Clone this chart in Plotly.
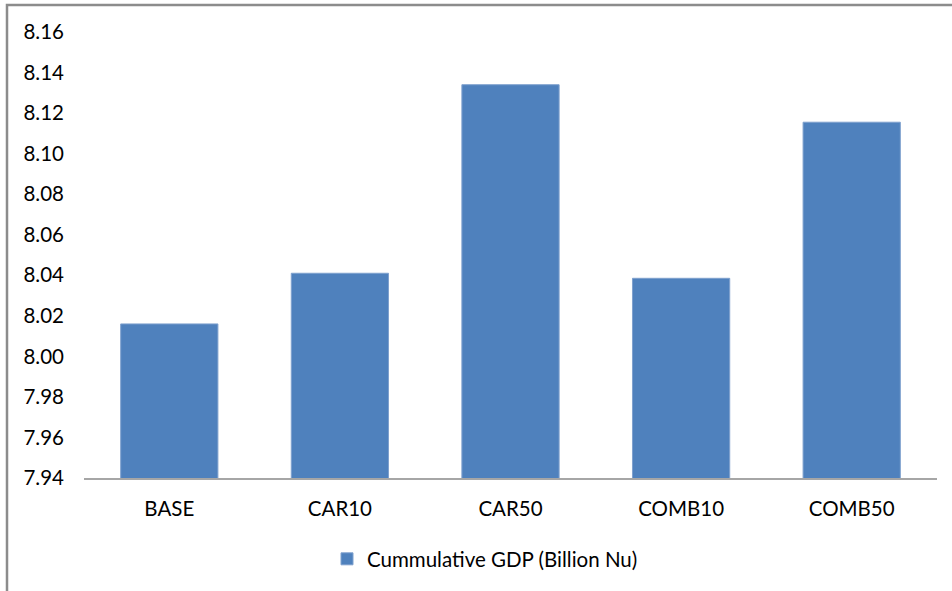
import plotly.graph_objects as go

categories = ["BASE", "CAR10", "CAR50", "COMB10", "COMB50"]
gdp_values = [8.016, 8.041, 8.134, 8.0385, 8.1155]
series_name = "Cummulative GDP (Billion Nu)"
y_ticks = [7.94, 7.96, 7.98, 8.00, 8.02, 8.04, 8.06, 8.08, 8.10, 8.12, 8.14, 8.16]

FONT = "Lato, Carlito, Calibri, sans-serif"

fig = go.Figure()
fig.add_trace(go.Bar(
    x=categories, y=gdp_values, name=series_name,
    marker=dict(color="#4F81BD", line=dict(color="#7FA1CE", width=1)),
))

W, H = 952, 591
l, r, t, b = 84, 15, 32, 113
pw = W - l - r
ph = H - t - b

def px_to_paper_x(px):
    return (px - l) / pw

def px_to_paper_y(py):
    return (H - b - py) / ph

fig.update_layout(
    width=W, height=H,
    margin=dict(l=l, r=r, t=t, b=b, pad=0),
    paper_bgcolor="white", plot_bgcolor="white",
    font=dict(family=FONT, size=20.5, color="#000000"),
    bargap=0.43,
    showlegend=True,
    legend=dict(orientation="h", x=px_to_paper_x(485), y=px_to_paper_y(559), xanchor="center", yanchor="middle",
                font=dict(size=20.5), itemwidth=30, bgcolor="rgba(0,0,0,0)"),
    xaxis=dict(showgrid=False, showline=True, linecolor="#A6A6A6", linewidth=1.5,
               ticks="", ticklabelstandoff=12, zeroline=False),
    yaxis=dict(range=[7.94, 8.16], tickvals=y_ticks, tickformat=".2f", showgrid=False,
               showline=False, zeroline=False, ticks="", ticklabelstandoff=19),
    shapes=[dict(type="rect", xref="paper", yref="paper",
                 x0=px_to_paper_x(7), x1=px_to_paper_x(1000),
                 y0=px_to_paper_y(700), y1=px_to_paper_y(5),
                 line=dict(color="#8C8C8C", width=2.5), fillcolor="rgba(0,0,0,0)", layer="below")],
)

fig.write_html("out.html")
